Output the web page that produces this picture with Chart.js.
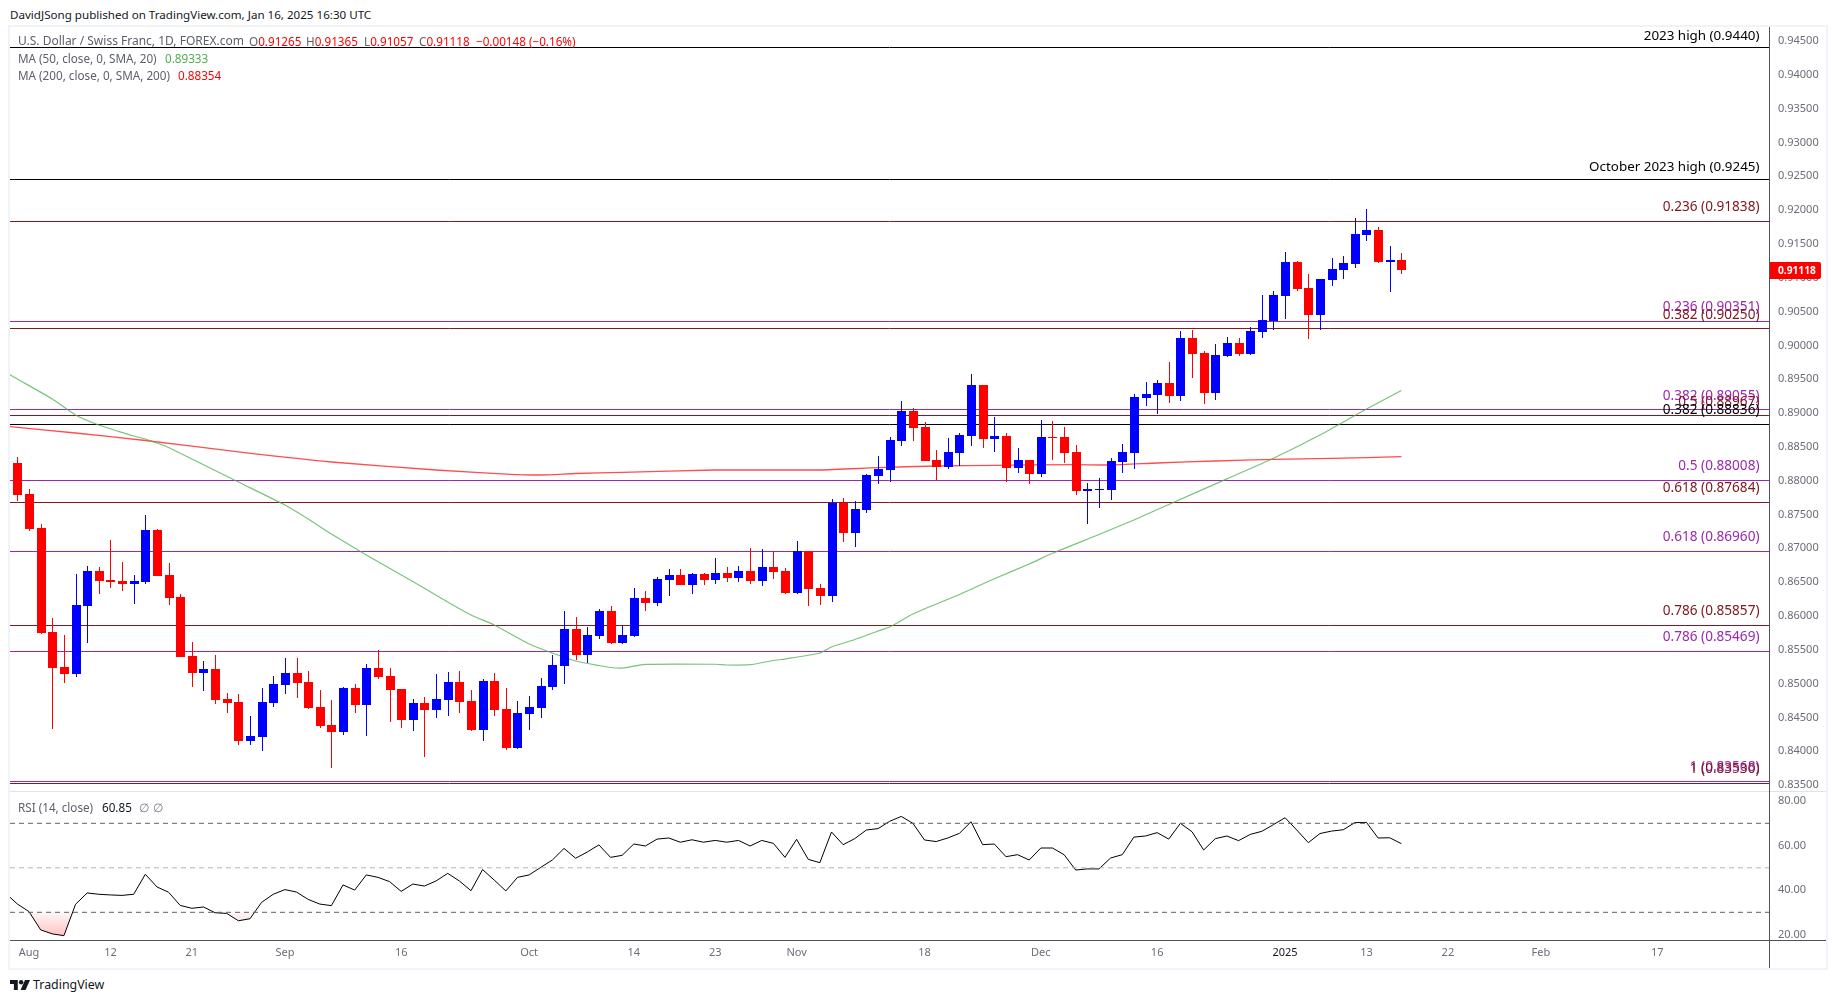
<!DOCTYPE html>
<html>
<head>
<meta charset="utf-8">
<title>USDCHF 1D</title>
<script src="https://cdn.jsdelivr.net/npm/chart.js@4"></script>
<style>
  html, body { margin: 0; padding: 0; background: #fff; }
  body { width: 1835px; height: 1003px; position: relative; overflow: hidden; font-family: "Noto Sans", sans-serif; }
  .abs { position: absolute; white-space: nowrap; line-height: 16px; }
  #frame { position: absolute; left: 8px; top: 25px; width: 1816px; height: 941px; border: 2px solid #f0f3fa; }
  #priceWrap { position: absolute; left: 10px; top: 27px; width: 1816px; height: 764px; }
  #rsiWrap { position: absolute; left: 10px; top: 792px; width: 1816px; height: 176px; }
  #sep { position: absolute; left: 10px; top: 791px; width: 1816px; height: 1px; background: #e0e3eb; }
  #rsiBase { position: absolute; left: 10px; top: 940px; width: 1816px; height: 1px; background: #50535e; }
  #axisLine { position: absolute; left: 1769px; top: 27px; width: 1px; height: 941px; background: #50535e; }
  .leg { font-size: 11.7px; color: #5d606b; }
  .red { color: #ff0000; }
  .green { color: #4caf50; }
</style>
</head>
<body>
<div class="abs" style="left:10px;top:7px;font-size:11.6px;color:#131722">DavidJSong published on TradingView.com, Jan 16, 2025 16:30 UTC</div>
<div id="frame"></div>
<div id="priceWrap"><canvas id="priceChart"></canvas></div>
<div id="sep"></div>
<div id="rsiWrap"><canvas id="rsiChart"></canvas></div>
<div id="rsiBase"></div>
<div id="axisLine"></div>

<div class="abs leg" style="left:18px;top:33px;font-size:12px">U.S. Dollar / Swiss Franc, 1D, FOREX.com</div>
<div class="abs leg" style="left:249px;top:33px">O<span class="red">0.91265</span></div>
<div class="abs leg" style="left:306px;top:33px">H<span class="red">0.91365</span></div>
<div class="abs leg" style="left:364px;top:33px">L<span class="red">0.91057</span></div>
<div class="abs leg" style="left:419px;top:33px">C<span class="red">0.91118</span></div>
<div class="abs leg red" style="left:476px;top:33px">−0.00148 (−0.16%)</div>
<div class="abs leg" style="left:18px;top:50px">MA (50, close, 0, SMA, 20)</div>
<div class="abs leg green" style="left:165px;top:50px">0.89333</div>
<div class="abs leg" style="left:18px;top:67px">MA (200, close, 0, SMA, 200)</div>
<div class="abs leg red" style="left:178px;top:67px">0.88354</div>
<div class="abs leg" style="left:18px;top:799px">RSI (14, close)</div>
<div class="abs leg" style="left:102px;top:799px;color:#131722">60.85</div>
<div class="abs leg" style="left:139px;top:799px;color:#787b86">∅</div>
<div class="abs leg" style="left:153px;top:799px;color:#787b86">∅</div>

<svg class="abs" style="left:10px;top:979px" width="20" height="12" viewBox="0 0 36 20">
  <path d="M0 1h14v18H7V8H0z" fill="#131722"/>
  <circle cx="20" cy="5" r="4" fill="#131722"/>
  <path d="M27 1h9l-8 18h-9z" fill="#131722"/>
</svg>
<div class="abs" style="left:33px;top:977px;font-size:12.4px;color:#131722">TradingView</div>

<script>
// USD/CHF 日線 [開, 高, 低, 收] (2024-07-31 ~ 2025-01-16)
const ohlc = [
  [0.88261,0.88350,0.87699,0.87788],[0.87803,0.87877,0.87261,0.87285],[0.87300,0.87359,0.85733,0.85748],[0.85763,0.85970,0.84329,0.85230],
  [0.85245,0.85718,0.85009,0.85142],[0.85142,0.86620,0.85097,0.86162],[0.86147,0.86738,0.85600,0.86664],[0.86664,0.86724,0.86324,0.86517],
  [0.86531,0.87123,0.86413,0.86502],[0.86517,0.86798,0.86369,0.86472],[0.86472,0.86605,0.86177,0.86517],[0.86502,0.87492,0.86472,0.87271],
  [0.87271,0.87285,0.86591,0.86591],[0.86605,0.86783,0.86162,0.86265],[0.86280,0.86324,0.85393,0.85393],[0.85408,0.85615,0.84950,0.85157],
  [0.85157,0.85334,0.84890,0.85216],[0.85216,0.85423,0.84698,0.84757],[0.84772,0.84861,0.84565,0.84713],[0.84728,0.84846,0.84092,0.84151],
  [0.84151,0.84521,0.84092,0.84225],[0.84210,0.84935,0.84003,0.84728],[0.84713,0.85112,0.84654,0.84994],[0.84979,0.85378,0.84846,0.85157],
  [0.85157,0.85378,0.84787,0.85009],[0.85023,0.85186,0.84624,0.84639],[0.84654,0.84905,0.84343,0.84373],[0.84388,0.84757,0.83752,0.84284],
  [0.84284,0.84950,0.84240,0.84935],[0.84935,0.84994,0.84565,0.84683],[0.84683,0.85290,0.84225,0.85230],[0.85230,0.85497,0.85068,0.85097],
  [0.85112,0.85230,0.84432,0.84905],[0.84920,0.84920,0.84343,0.84462],[0.84462,0.84772,0.84299,0.84713],[0.84713,0.84802,0.83915,0.84610],
  [0.84610,0.85142,0.84491,0.84772],[0.84757,0.85171,0.84521,0.85023],[0.85023,0.85186,0.84565,0.84728],[0.84743,0.84905,0.84299,0.84314],
  [0.84314,0.85068,0.84151,0.85038],[0.85038,0.85157,0.84521,0.84610],[0.84624,0.84935,0.84018,0.84048],[0.84048,0.84743,0.84033,0.84565],
  [0.84550,0.84817,0.84314,0.84654],[0.84639,0.85083,0.84491,0.84964],[0.84950,0.85423,0.84905,0.85275],[0.85260,0.86073,0.84994,0.85807],
  [0.85807,0.85984,0.85349,0.85423],[0.85423,0.85837,0.85304,0.85718],[0.85704,0.86103,0.85659,0.86073],[0.86073,0.86147,0.85585,0.85600],
  [0.85600,0.85851,0.85585,0.85718],[0.85704,0.86413,0.85689,0.86265],[0.86265,0.86369,0.86073,0.86191],[0.86191,0.86576,0.86147,0.86546],
  [0.86531,0.86694,0.86295,0.86605],[0.86605,0.86694,0.86457,0.86457],[0.86457,0.86635,0.86324,0.86620],[0.86620,0.86635,0.86457,0.86531],
  [0.86531,0.86857,0.86472,0.86635],[0.86635,0.86724,0.86502,0.86561],[0.86561,0.86738,0.86502,0.86664],[0.86664,0.87005,0.86472,0.86517],
  [0.86517,0.86990,0.86443,0.86724],[0.86724,0.86960,0.86546,0.86650],[0.86664,0.86709,0.86324,0.86339],[0.86339,0.87108,0.86324,0.86960],
  [0.86960,0.86960,0.86147,0.86398],[0.86413,0.86472,0.86162,0.86295],[0.86295,0.87729,0.86206,0.87670],[0.87670,0.87744,0.87093,0.87226],
  [0.87226,0.87699,0.87019,0.87581],[0.87566,0.88098,0.87522,0.88084],[0.88069,0.88365,0.87951,0.88172],[0.88158,0.88645,0.87980,0.88601],
  [0.88586,0.89178,0.88512,0.89030],[0.89030,0.89074,0.88586,0.88779],[0.88793,0.88867,0.88291,0.88291],[0.88305,0.88453,0.88010,0.88202],
  [0.88202,0.88631,0.88172,0.88424],[0.88409,0.88705,0.88217,0.88675],[0.88660,0.89577,0.88512,0.89414],[0.89414,0.89414,0.88483,0.88616],
  [0.88616,0.88941,0.88424,0.88660],[0.88660,0.88705,0.87980,0.88187],[0.88187,0.88483,0.88113,0.88305],[0.88305,0.88305,0.87951,0.88098],
  [0.88098,0.88897,0.88054,0.88645],[0.88645,0.88882,0.88305,0.88631],[0.88645,0.88793,0.88261,0.88409],[0.88424,0.88527,0.87788,0.87847],
  [0.87847,0.87965,0.87359,0.87877],[0.87862,0.88039,0.87596,0.87877],[0.87862,0.88335,0.87714,0.88291],[0.88276,0.88542,0.88113,0.88424],
  [0.88409,0.89281,0.88172,0.89237],[0.89222,0.89459,0.89104,0.89281],[0.89266,0.89488,0.88986,0.89444],[0.89444,0.89754,0.89148,0.89252],
  [0.89252,0.90213,0.89178,0.90109],[0.90109,0.90227,0.89518,0.89873],[0.89887,0.89917,0.89133,0.89296],[0.89296,0.90020,0.89193,0.89858],
  [0.89843,0.90124,0.89828,0.90035],[0.90035,0.90109,0.89843,0.89873],[0.89873,0.90272,0.89858,0.90213],[0.90198,0.90745,0.90109,0.90375],
  [0.90361,0.90804,0.90227,0.90745],[0.90730,0.91381,0.90390,0.91233],[0.91233,0.91248,0.90804,0.90834],[0.90848,0.91055,0.90094,0.90449],
  [0.90449,0.90981,0.90227,0.90981],[0.90967,0.91292,0.90878,0.91129],[0.91114,0.91321,0.90981,0.91218],[0.91203,0.91883,0.91144,0.91647],
  [0.91632,0.92016,0.91543,0.91706],[0.91706,0.91750,0.91218,0.91233],[0.91233,0.91469,0.90789,0.91262],[0.91265,0.91365,0.91057,0.91118]
];

// 均線讀值 {x: K棒序號, y: 價格}
const ma50 = [
  [-1,0.89601],[0,0.89503],[3,0.89207],[5,0.88971],[7,0.88823],[10,0.88660],[11,0.88616],[12,0.88557],[13,0.88490],
  [19,0.87980],[23,0.87640],[25,0.87433],[27,0.87211],[30,0.86901],[34,0.86509],[37,0.86206],[39,0.86014],[41,0.85866],
  [44,0.85585],[46,0.85452],[48,0.85334],[50,0.85267],[51,0.85238],[52,0.85230],[54,0.85284],[60,0.85286],[61,0.85275],
  [63,0.85279],[65,0.85341],[66,0.85363],[69,0.85452],[70,0.85541],[72,0.85652],[74,0.85777],[75,0.85836],[77,0.86029],
  [81,0.86317],[84,0.86549],[87,0.86768],[89,0.86926],[93,0.87204],[96,0.87418],[99,0.87648],[104,0.88027],[108,0.88332],
  [112,0.88675],[116,0.89059],[119,0.89333]
].map(([x, y]) => ({ x, y }));
const ma200 = [
  [-1,0.88805],[5,0.88705],[11,0.88594],[19,0.88427],[27,0.88276],[36,0.88158],[42,0.88098],[45,0.88084],[48,0.88106],
  [52,0.88124],[60,0.88158],[69,0.88158],[74,0.88192],[79,0.88217],[84,0.88227],[91,0.88236],[94,0.88232],[98,0.88261],
  [103,0.88291],[108,0.88316],[113,0.88330],[119,0.88354]
].map(([x, y]) => ({ x, y }));

const rsi = [
  38.5,33.7,30.3,22.1,20.3,19.5,33.6,38.7,38.1,37.8,37.6,38.1,47.1,41.4,39.0,33.1,31.8,32.4,29.8,29.5,
  26.2,27.1,34.5,38.1,40.2,39.1,35.8,33.7,33.0,42.3,40.0,46.8,45.7,43.8,39.4,42.7,41.8,44.1,47.5,44.1,
  39.7,49.2,44.5,39.6,45.7,46.8,50.2,53.5,58.7,54.3,57.1,60.3,54.7,55.6,60.7,59.8,62.9,63.4,61.5,62.6,
  61.5,62.3,61.5,62.3,59.8,62.3,61.0,54.7,62.8,53.8,52.3,66.1,60.4,63.1,67.0,67.6,70.9,73.1,70.0,62.5,
  61.8,63.4,65.5,70.7,60.4,60.7,55.0,55.9,53.5,58.9,58.9,55.9,49.0,49.5,49.5,54.4,55.9,63.8,64.3,65.8,
  62.9,70.0,66.2,58.0,63.1,64.3,62.2,65.0,66.4,69.4,72.5,67.0,61.3,65.4,66.5,67.1,70.3,70.4,63.4,63.5,60.85
].map((y, i) => ({ x: i - 1, y }));

// 水平價位線與標籤
const BLACK = '#000000', MAROON = '#801922', PURPLE = '#9c27b0';
const levels = [
  { v: 0.83550, text: '1 (0.83568)', color: PURPLE, gap: 14 },
  { v: 0.83530, text: '1 (0.83530)', color: MAROON, gap: 14 },
  { v: 0.85469, text: '0.786 (0.85469)', color: PURPLE, gap: 14 },
  { v: 0.85857, text: '0.786 (0.85857)', color: MAROON, gap: 14 },
  { v: 0.86960, text: '0.618 (0.86960)', color: PURPLE, gap: 14 },
  { v: 0.87684, text: '0.618 (0.87684)', color: MAROON, gap: 14 },
  { v: 0.88008, text: '0.5 (0.88008)', color: PURPLE, gap: 14 },
  { v: 0.89055, text: '0.382 (0.89055)', color: PURPLE, gap: 13 },
  { v: 0.88967, text: '0.5 (0.88967)', color: MAROON, gap: 13 },
  { v: 0.88836, text: '0.382 (0.88836)', color: BLACK, gap: 14 },
  { v: 0.90351, text: '0.236 (0.90351)', color: PURPLE, gap: 14 },
  { v: 0.90250, text: '0.382 (0.90250)', color: MAROON, gap: 13 },
  { v: 0.91838, text: '0.236 (0.91838)', color: MAROON, gap: 14 },
  { v: 0.92450, text: 'October 2023 high (0.9245)', color: BLACK, gap: 12, big: true },
  { v: 0.94400, text: '2023 high (0.9440)', color: BLACK, gap: 11, big: true }
];

const X_MIN = -0.636, X_MAX = 150.61;
const xLabels = { 1:'Aug', 8:'12', 15:'21', 23:'Sep', 33:'16', 44:'Oct', 53:'14', 60:'23', 67:'Nov', 78:'18',
                  88:'Dec', 98:'16', 109:'2025', 116:'13', 123:'22', 131:'Feb', 141:'17' };
const priceTicks = [];
for (let t = 945; t >= 835; t -= 5) priceTicks.push(t / 1000);

const FONT = '"Noto Sans", sans-serif';
const TICK = '#6a6d78';

// 水平線 (K 棒之下) 與 K 棒 (均線之上)
const drawingPlugin = {
  id: 'drawings',
  beforeDatasetsDraw(chart) {
    const ctx = chart.ctx, y = chart.scales.y, area = chart.chartArea;
    ctx.save();
    ctx.lineWidth = 1;
    levels.forEach(l => {
      const py = Math.floor(y.getPixelForValue(l.v)) + 0.5;
      ctx.strokeStyle = l.color;
      ctx.beginPath();
      ctx.moveTo(area.left, py);
      ctx.lineTo(area.right, py);
      ctx.stroke();
    });
    ctx.restore();
  },
  afterDatasetsDraw(chart) {
    const ctx = chart.ctx, x = chart.scales.x, y = chart.scales.y, area = chart.chartArea;
    ctx.save();
    ohlc.forEach(([o, h, l, c], i) => {
      const color = c >= o ? '#0000ff' : '#ff0000';
      const px = Math.round(x.getPixelForValue(i));
      const top = Math.round(y.getPixelForValue(Math.max(o, c)));
      const bot = Math.round(y.getPixelForValue(Math.min(o, c)));
      ctx.fillStyle = color;
      ctx.fillRect(px, Math.round(y.getPixelForValue(h)), 1, Math.round(y.getPixelForValue(l)) - Math.round(y.getPixelForValue(h)));
      ctx.fillRect(px - 4, top, 9, Math.max(1, bot - top));
    });

    // 價位標籤
    ctx.textAlign = 'right';
    ctx.textBaseline = 'middle';
    levels.forEach(l => {
      ctx.font = (l.big ? '13.4px ' : '13.6px ') + FONT;
      ctx.fillStyle = l.color;
      ctx.fillText(l.text, area.right - 9.5, Math.floor(y.getPixelForValue(l.v)) - l.gap + 0.5);
    });
    ctx.restore();
  },
  afterDraw(chart) {
    // 現價標籤
    const ctx = chart.ctx, y = chart.scales.y, area = chart.chartArea;
    const last = ohlc[ohlc.length - 1][3];
    const py = Math.round(y.getPixelForValue(last));
    ctx.save();
    ctx.fillStyle = '#ff0000';
    ctx.beginPath();
    ctx.roundRect(area.right, py - 8, 52, 17, [0, 2, 2, 0]);
    ctx.fill();
    ctx.fillStyle = '#ffffff';
    ctx.font = 'bold 10.2px ' + FONT;
    ctx.textAlign = 'left';
    ctx.textBaseline = 'middle';
    ctx.fillText(last.toFixed(5), area.right + 9, py + 1);
    ctx.restore();
  }
};

const yAxisWidth = 57;

// 固定軸寬並取消刻度文字造成的內縮,讓圖區貼齊面板
const fitY = s => { s.width = yAxisWidth; s.paddingTop = 0; s.paddingBottom = 0; };
const fitX = s => { s.height = 28; s.paddingLeft = 0; s.paddingRight = 0; };

new Chart(document.getElementById('priceChart'), {
  type: 'line',
  data: {
    datasets: [
      { label: 'MA 50', data: ma50, borderColor: 'rgba(76,175,80,0.75)', borderWidth: 1.2, pointRadius: 0, tension: 0.2 },
      { label: 'MA 200', data: ma200, borderColor: 'rgba(255,0,0,0.7)', borderWidth: 1.3, pointRadius: 0, tension: 0.2 }
    ]
  },
  options: {
    responsive: true,
    maintainAspectRatio: false,
    animation: false,
    layout: { padding: 0 },
    plugins: { legend: { display: false }, tooltip: { enabled: false } },
    scales: {
      x: { type: 'linear', min: X_MIN, max: X_MAX, display: false },
      y: {
        position: 'right',
        min: 0.83412,
        max: 0.94707,
        grid: { display: false, drawTicks: false },
        border: { display: false },
        afterFit: fitY,
        afterBuildTicks: s => { s.ticks = priceTicks.map(value => ({ value })); },
        ticks: { color: TICK, font: { family: FONT, size: 11 }, padding: 9, callback: v => v.toFixed(5) }
      }
    }
  },
  plugins: [drawingPlugin]
});

// RSI 超賣區填色
const rsiCanvas = document.getElementById('rsiChart');
const oversold = rsiCanvas.getContext('2d').createLinearGradient(0, 120, 0, 145);
oversold.addColorStop(0, 'rgba(255,82,82,0.04)');
oversold.addColorStop(1, 'rgba(255,82,82,0.36)');

const hline = (v, color) => ({
  data: [{ x: X_MIN, y: v }, { x: X_MAX, y: v }],
  borderColor: color, borderWidth: 1, borderDash: [5, 4], pointRadius: 0
});

new Chart(rsiCanvas, {
  type: 'line',
  data: {
    datasets: [
      hline(70, '#5d606b'),
      hline(50, '#b2b5be'),
      hline(30, '#5d606b'),
      {
        label: 'RSI', data: rsi, borderColor: '#000000', borderWidth: 1, pointRadius: 0, tension: 0,
        fill: { target: { value: 30 }, above: 'rgba(0,0,0,0)', below: oversold }
      }
    ]
  },
  options: {
    responsive: true,
    maintainAspectRatio: false,
    animation: false,
    layout: { padding: 0 },
    plugins: { legend: { display: false }, tooltip: { enabled: false } },
    scales: {
      x: {
        type: 'linear',
        min: X_MIN,
        max: X_MAX,
        grid: { display: false, drawTicks: false },
        border: { display: false },
        afterFit: fitX,
        afterBuildTicks: s => { s.ticks = Object.keys(xLabels).map(k => ({ value: +k })); },
        ticks: {
          autoSkip: false, maxRotation: 0, padding: 6,
          color: c => (c.tick && c.tick.value === 109 ? '#131722' : TICK),
          font: { family: FONT, size: 11 },
          callback: v => xLabels[v]
        }
      },
      y: {
        position: 'right',
        min: 17.55,
        max: 84.07,
        grid: { display: false, drawTicks: false },
        border: { display: false },
        afterFit: fitY,
        afterBuildTicks: s => { s.ticks = [80, 60, 40, 20].map(value => ({ value })); },
        ticks: { color: TICK, font: { family: FONT, size: 11 }, padding: 9, callback: v => v.toFixed(2) }
      }
    }
  }
});
</script>
</body>
</html>
